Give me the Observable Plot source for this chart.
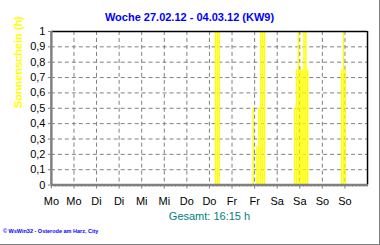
<!DOCTYPE html>
<html>
<head>
<meta charset="utf-8">
<script src="https://cdn.jsdelivr.net/npm/d3@7"></script>
<script src="https://cdn.jsdelivr.net/npm/@observablehq/plot@0.6"></script>
<style>
  html, body { margin: 0; padding: 0; background: #fff; }
  #wrap { position: relative; width: 380px; height: 245px; box-sizing: border-box;
          border-right: 1px solid #808080; border-bottom: 1px solid #808080; overflow: hidden;
          font-family: "Liberation Sans", Arial, sans-serif; }
  #title { height: 24px; box-sizing: border-box; padding-top: 10px; line-height: 14px;
           text-align: center; font-size: 11px; font-weight: bold; color: #0000ff; }
  #total { position: absolute; left: 51px; width: 317px; top: 208px; line-height: 16px;
           text-align: center; font-size: 11px; color: #008080; }
  #footer { position: absolute; left: 3px; top: 228px; line-height: 7px; font-size: 5.5px;
            font-weight: bold; color: #0000ff; white-space: nowrap; }
  svg { display: block; }
</style>
</head>
<body>
<div id="wrap">
  <div id="title"></div>
  <div id="chart"></div>
  <div id="total"></div>
  <div id="footer"></div>
</div>
<script>
const titleText = "Woche 27.02.12 - 04.03.12 (KW9)";
const yLabel = "Sonnenschein (h)";
const totalText = "Gesamt: 16:15 h";
const footerText = "© WsWin32  -  Osterode am Harz, City";

// x: hours since Monday 00:00
const xTicks = [0, 12, 24, 36, 48, 60, 72, 84, 96, 108, 120, 132, 144, 156];
const xTickLabels = ["Mo","Mo","Di","Di","Mi","Mi","Do","Do","Fr","Fr","Sa","Sa","So","So"];
const yTicks = [0, 0.1, 0.2, 0.3, 0.4, 0.5, 0.6, 0.7, 0.8, 0.9, 1];
const yTickLabels = ["0","0,1","0,2","0,3","0,4","0,5","0,6","0,7","0,8","0,9","1"];

// hourly sunshine (hour index since Monday 00:00, hours of sun)
const sunHour  = [87, 88, 89, 107, 109, 110, 111, 112, 113, 129, 130, 131, 132, 133, 134, 135, 136, 154, 155, 156];
const sunValue = [1, 1, 1, 0.5, 0.25, 0.5, 1, 1, 1, 0.5, 0.75, 1, 0.75, 0.75, 1, 1, 0.75, 0.75, 1, 0.75];

const sun = sunHour.map((h, i) => ({h, v: sunValue[i]}));
const minorTicks = d3.range(0, 169, 2);

document.getElementById("title").textContent = titleText;
document.getElementById("total").textContent = totalText;
document.getElementById("footer").textContent = footerText;

const gray = "#808080";
const chart = Plot.plot({
  width: 380,
  height: 180,
  marginLeft: 51,
  marginRight: 12,
  marginTop: 7,
  marginBottom: 19,
  style: { fontFamily: "'Liberation Sans', Arial, sans-serif", fontSize: "11px", background: "transparent", overflow: "visible" },
  x: { domain: [0, 168] },
  y: { domain: [0, 1] },
  marks: [
    Plot.ruleY(yTicks.slice(1, -1), { stroke: gray, strokeDasharray: "4,3" }),
    Plot.ruleX(xTicks.slice(1), { stroke: gray, strokeDasharray: "4,3" }),
    Plot.rectY(sun, { x1: d => d.h, x2: d => d.h + 1, y: "v", fill: "#ffff00", insetLeft: 0.2, insetRight: 0.2 }),
    Plot.ruleY([1], { stroke: "#000", strokeWidth: 1.5 }),
    Plot.ruleX([168], { stroke: "#000", strokeWidth: 1.5 }),
    Plot.axisX(minorTicks, { tickSize: 2, tickFormat: () => "", stroke: gray }),
    Plot.axisX({ ticks: xTicks, tickFormat: (d, i) => xTickLabels[i], tickSize: 4, tickPadding: 8, stroke: gray, fill: "#000", fontSize: 11 }),
    Plot.axisY({ ticks: yTicks, tickFormat: (d, i) => yTickLabels[i], tickSize: 3, tickPadding: 3, stroke: gray, fill: "#000", fontSize: 11, label: null }),
    Plot.ruleX([0], { stroke: gray, strokeWidth: 2.5 }),
    Plot.ruleY([0], { stroke: gray, strokeWidth: 2.5 }),
    Plot.text([yLabel], { frameAnchor: "left", rotate: -90, dx: -33, fill: "#ffff00", fontWeight: "bold", fontSize: 11 })
  ]
});
document.getElementById("chart").appendChild(chart);
</script>
</body>
</html>
